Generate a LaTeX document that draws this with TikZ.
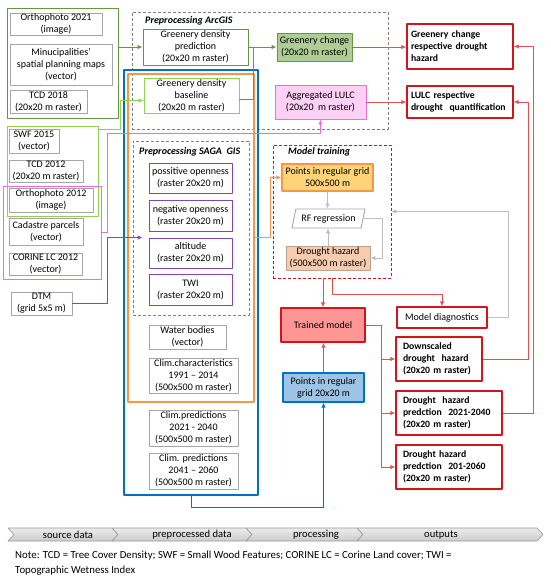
\documentclass[tikz,border=0pt]{standalone}
\usepackage{fontspec}
\setmainfont{Carlito}
\usetikzlibrary{arrows.meta,shapes.geometric}
\definecolor{dgreen}{RGB}{100,150,70}
\definecolor{lgreen}{RGB}{146,208,80}
\definecolor{pinkc}{RGB}{240,110,210}
\definecolor{bluec}{RGB}{0,112,192}
\definecolor{orangec}{RGB}{247,150,70}
\definecolor{purplec}{RGB}{130,70,180}
\definecolor{redc}{RGB}{210,20,30}
\definecolor{redl}{RGB}{228,80,80}
\definecolor{grayc}{RGB}{166,166,166}
\definecolor{grayl}{RGB}{190,190,190}
\definecolor{chgfill}{RGB}{174,205,150}
\definecolor{pinkfill}{RGB}{255,208,245}
\definecolor{ptsfill}{RGB}{255,212,120}
\definecolor{dhfill}{RGB}{248,203,173}
\definecolor{dhdraw}{RGB}{190,160,140}
\definecolor{tmfill}{RGB}{255,150,150}
\definecolor{pfill}{RGB}{157,195,230}
\begin{document}
\begin{tikzpicture}[x=1pt,y=-1pt,line join=round,font=\fontsize{10}{12}\selectfont,>={Latex[length=5pt,width=4.5pt]},
  src/.style={draw=grayc,line width=0.9pt,align=center,inner xsep=1pt,inner ysep=0pt},
  grp/.style={draw=#1,line width=0.9pt},
  pre/.style={draw=#1,line width=0.9pt,align=center,inner xsep=1pt,inner ysep=0pt},
  outb/.style={draw=redc,line width=1.4pt,align=left,inner ysep=0pt,font=\fontsize{9.7}{12}\selectfont\bfseries},
  zone/.style={draw=gray,densely dashed,line width=0.6pt},
  ttl/.style={font=\fontsize{10}{12}\selectfont\bfseries\itshape,anchor=west,inner sep=0pt},
  ln/.style={line width=0.9pt,draw=#1}]
\path[fill=white,use as bounding box] (0,0) rectangle (550,582);
\def\bx#1#2#3#4#5#6#7{\node[#6,minimum width=#4pt-#2pt,minimum height=#5pt-#3pt] (#1) at ({(#2+#4)/2},{(#3+#5)/2}) {#7};}
\bx{arc}{132}{12}{388}{129}{zone}{}
\node[ttl] (tarc) at (145,21) {Preprocessing ArcGIS};
\bx{blu}{124}{70}{258}{495}{grp=bluec,line width=1.4pt}{}
\bx{orn}{128}{74}{254}{402}{grp=orangec,line width=1.4pt}{}
\bx{saga}{133}{141}{249}{315}{zone}{}
\node[ttl] (tsaga) at (139,152) {Preprocessing SAGA\ \ GIS};
\bx{mt}{273}{145}{391}{278}{zone,draw=redc}{}
\node[ttl] (tmt) at (288,152) {Model training};
\bx{ga}{7}{8}{118}{118}{grp=dgreen}{}
\bx{gb}{7}{126}{98}{216}{grp=lgreen}{}
\bx{gc}{3}{186}{101}{279}{grp=pinkc}{}
\bx{o21}{10}{13}{102}{35}{src}{Orthophoto 2021\\(image)}
\bx{mun}{10}{44}{112}{85}{src}{Minucipalities’\\spatial planning maps\\(vector)}
\bx{t18}{10}{90}{87}{113}{src}{TCD 2018\\(20x20 m raster)}
\bx{swf}{9}{129}{59}{153}{src}{SWF 2015\\(vector)}
\bx{t12}{9}{160}{83}{182}{src}{TCD 2012\\(20x20 m raster)}
\bx{o12}{9}{188}{93}{212}{src}{Orthophoto 2012\\(image)}
\bx{cad}{9}{218}{83}{245}{src}{Cadastre parcels\\(vector)}
\bx{clc}{9}{253}{82}{275}{src}{CORINE LC 2012\\(vector)}
\bx{dtm}{11}{292}{72}{315}{src}{DTM\\(grid 5x5 m)}
\bx{pred}{143}{29}{248}{65}{pre=dgreen}{Greenery density\\prediction\\(20x20 m raster)}
\bx{base}{144}{78}{239}{113}{pre=lgreen}{Greenery density\\baseline\\(20x20 m raster)}
\bx{chg}{277}{33}{352}{61}{pre=dgreen,fill=chgfill}{Greenery change\\(20x20 m raster)}
\bx{lulc}{275}{85}{366}{119}{pre=pinkc,fill=pinkfill}{Aggregated LULC\\(20x20\ \ m raster)}
\bx{out1}{407}{24}{513}{69}{outb,inner xsep=4pt,text width=98pt}{Greenery~change\\respective~drought\\hazard}
\bx{out2}{407}{86}{513}{118}{outb,inner xsep=4pt,text width=98pt}{LULC~respective\\drought~~quantification}
\bx{pos}{149}{163}{232}{193}{pre=purplec}{possitive openness\\(raster 20x20 m)}
\bx{neg}{149}{200}{232}{231}{pre=purplec}{negative openness\\(raster 20x20 m)}
\bx{alt}{149}{238}{232}{268}{pre=purplec}{altitude\\(raster 20x20 m)}
\bx{twi}{149}{274}{232}{305}{pre=purplec}{TWI\\(raster 20x20 m)}
\bx{wat}{149}{325}{226}{349}{src}{Water bodies\\(vector)}
\bx{cc}{149}{358}{238}{393}{src}{Clim.characteristics\\1991 – 2014\\(500x500 m raster)}
\bx{cp1}{149}{410}{238}{446}{src}{Clim.predictions\\2021 - 2040\\(500x500 m raster)}
\bx{cp2}{149}{453}{238}{489}{src}{Clim. predictions\\2041 – 2060\\(500x500 m raster)}
\bx{pts5}{282}{164}{373}{191}{pre=orangec,fill=ptsfill,line width=1.2pt}{Points in regular grid\\500x500 m}
\bx{rf}{292}{209}{365}{228}{trapezium,trapezium left angle=70,trapezium right angle=110,trapezium stretches=true,draw=grayc,line width=0.9pt,inner sep=0pt}{RF regression}
\bx{dh}{286}{246}{370}{270}{pre=dhdraw,fill=dhfill}{Drought hazard\\(500x500 m raster)}
\bx{diag}{397}{307}{487}{328}{pre=redc,line width=1.4pt}{Model diagnostics}
\bx{tm}{281}{308}{365}{342}{pre=redc,fill=tmfill,line width=1.4pt}{Trained model}
\bx{pts20}{283}{373}{364}{402}{pre=bluec,fill=pfill,line width=1.2pt}{Points in regular\\grid 20x20 m}
\bx{o3}{396}{337}{482}{381}{outb,inner xsep=7pt,text width=72pt}{Downscaled\\drought~~hazard\\(20x20~m~raster)}
\bx{o4}{396}{391}{502}{435}{outb,inner xsep=7pt,text width=92pt}{Drought~~hazard\\predction~~2021-2040\\(20x20~m~raster)}
\bx{o5}{396}{445}{502}{489}{outb,inner xsep=7pt,text width=92pt}{Drought~hazard\\predction~~201-2060\\(20x20~m~raster)}
\draw[ln=dgreen,->] (ga.east |- pred.west) -- (pred.west);
\draw[ln=lgreen,->] ([yshift=-4pt]gb.north east) -- ++(22,0) |- ([yshift=-5pt]base.west);
\draw[ln=dgreen,->] (pred) -- (chg);
\draw[ln=dgreen] ([yshift=-4pt]base.east) -| ([xshift=5pt]pred.east);
\draw[ln=redl,->] (chg.east) -- (chg.east -| out1.west);
\draw[ln=redl,->] (lulc.east) -- (lulc.east -| out2.west);
\draw[ln=pinkc,->] (gc.east) -- ++(6,0) -- ++(0,-99) -| (lulc.south);
\draw[ln=purplec,->] (dtm.east) -- ++(35,0) |- ([xshift=-6pt]alt.north west);
\draw[ln=orangec,->] (orn.east |- alt.north) -- ++(16,0) |- (pts5.west);
\draw[ln=grayl,->] (pts5.south) -- (pts5.south |- rf.north);
\draw[ln=grayl,->] (dh.north) -- (dh.north |- rf.south);
\draw[ln=grayl,->] (rf.east) -- ++(19,0) |- (dh.east);
\draw[ln=grayl,->] (diag.east) -- ++(21,0) |- (mt.east);
\draw[ln=redl,->] (mt.south -| tm.north) -- (tm.north);
\draw[ln=redl,->] (mt.south) -- ++(0,16) -| (diag.north);
\draw[ln=redl,->] (pts20.north) -- (pts20.north |- tm.south);
\draw[ln=bluec,->] (blu.south) -- ++(0,12) -| (pts20.south);
\foreach \o in {o3,o4,o5} \draw[ln=redl,->] (tm.east) -- ++(16,0) |- (\o.west);
\draw[ln=redl,->] (o3.east) -- ++(46,0) |- (out2.east);
\draw[ln=redl,->] (o4.east) -- ++(31,0) |- (out1.east);
\foreach \a/\b/\c/\t [count=\i] in {8/112/68/source data,112/246/192/preprocessed data,246/357/316/processing,357/537/441/outputs}{
  \draw[draw=gray!80,top color=gray!15,bottom color=gray!40,line width=0.6pt] (\a,528) -- (\b,528) -- (\b+6,534.5) -- (\b,541) -- (\a,541) -- (\a+6,534.5) -- cycle;
  \node[inner sep=0pt,font=\fontsize{10.6}{12}\selectfont] (c\i) at (\c,534.5) {\t};}
\node[anchor=north west,align=left,inner sep=0pt,font=\fontsize{10.8}{15}\selectfont] (note) at (15,551) {Note: TCD = Tree Cover Density; SWF = Small Wood Features; CORINE LC = Corine Land cover; TWI =\\Topographic Wetness Index};
\end{tikzpicture}
\end{document}
